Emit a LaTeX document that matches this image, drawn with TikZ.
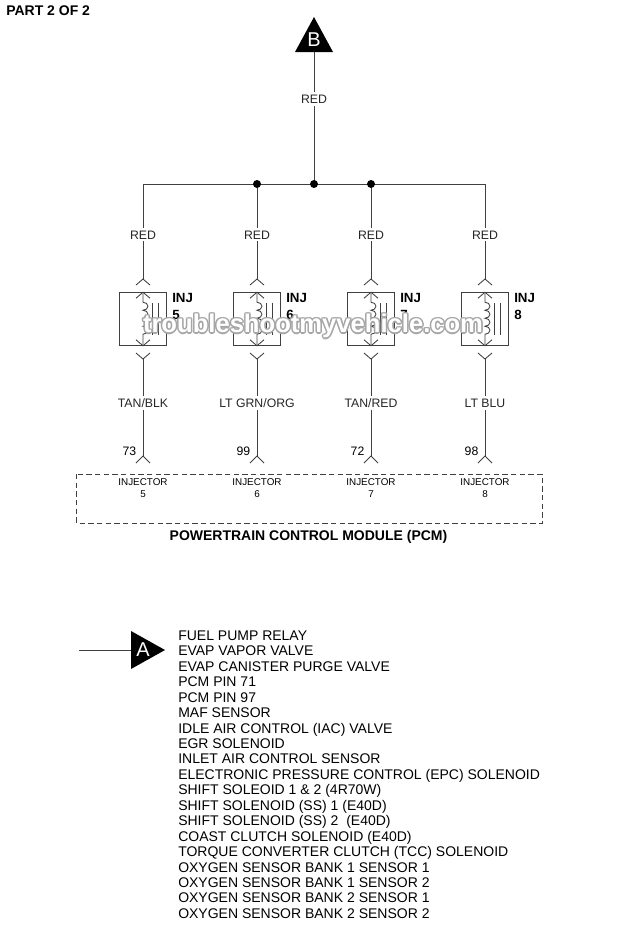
\documentclass[tikz,border=0pt]{standalone}
\usepackage{fontspec}
\setmainfont{Liberation Sans}
\tikzset{
  wire/.style={line width=0.7pt,color=black!75},
  pin/.style={line width=0.65pt,color=black!75},
  dot/.style={circle,fill=black,inner sep=0pt,minimum size=6pt},
  wirelabel/.style={fill=white,text=black!85,inner sep=1.5pt,text height=7pt,text depth=0pt,font=\fontsize{9.2}{11}\selectfont},
  smalllabel/.style={font=\fontsize{7.4}{8.4}\selectfont,align=center},
  injlabel/.style={font=\fontsize{10}{12.6}\selectfont\bfseries,align=left,anchor=north west,inner sep=0pt},
  injbox/.style={draw,line width=0.65pt,color=black!75,minimum width=35pt,minimum height=39.5pt,inner sep=0pt},
  flag/.style={fill=black,draw=none},
  flagletter/.style={text=white,font=\fontsize{15}{15}\selectfont,inner sep=0pt}
}
\begin{document}
\begin{tikzpicture}[x=0.75pt,y=-0.75pt]
  \useasboundingbox (0,0) rectangle (618,950);
  \pgfmathsetmacro{\hauteurbus}{184}
  \pgfmathsetmacro{\hauteurbox}{319}
  \pgfmathsetmacro{\hauteurpin}{456}
  \node[font=\fontsize{10.5}{12}\selectfont\bfseries,anchor=west,inner sep=0pt] (titre) at (6,11) {PART 2 OF 2};
  % feed from B
  \fill[flag] (314,17) -- (333,52) -- (295,52) -- cycle;
  \node[flagletter] (flagb) at (314,39.5) {B};
  \coordinate (feed) at (314,52);
  \coordinate (centre) at (314,\hauteurbus);
  \coordinate (busleft) at (143,\hauteurbus);
  \coordinate (busright) at (485,\hauteurbus);
  \draw[wire] (feed) -- (centre) node[wirelabel,pos=0.355] (feedlabel) {RED};
  \draw[wire] (busleft) -- (busright);
  % one injector per loop
  \foreach \x/\n/\couleur/\pinnum in {143/5/{TAN/BLK}/73,257/6/{LT GRN/ORG}/99,371/7/{TAN/RED}/72,485/8/{LT BLU}/98}{
    \coordinate (bus\n) at (\x,\hauteurbus);
    \coordinate (top\n) at (\x,279);
    \coordinate (low\n) at (\x,359);
    \coordinate (end\n) at (\x,\hauteurpin);
    \node[injbox] (box\n) at (\x,\hauteurbox) {};
    \draw[wire] (bus\n) -- (top\n) node[wirelabel,pos=0.535] (red\n) {RED};
    \draw[wire] (low\n) -- (end\n) node[wirelabel,pos=0.455] (col\n) {\couleur};
    \draw[pin] (top\n) ++(-7,6) -- ++(7,-6) -- ++(7,6);
    \draw[pin] (low\n) ++(-7,-6) -- ++(7,6) -- ++(7,-6);
    \draw[pin] (end\n) ++(-7,7) -- ++(7,-7) -- ++(7,7);
    \draw[pin] (box\n.north) ++(-7,6) -- ++(7,-6) -- ++(7,6);
    \draw[pin] (box\n.south) ++(-7,-6) -- ++(7,6) -- ++(7,-6);
    % coil
    \draw[pin] (box\n.north) -- ++(0,10)
      \foreach \k in {1,...,4} {arc[start angle=-90,end angle=90,x radius=5,y radius=4]} -- (box\n.south);
    \draw[pin] (\x+9,303) -- (\x+9,335);
    \draw[pin] (\x+15,303) -- (\x+15,335);
    \node[injlabel] (inj\n) at (\x+29,293) {INJ\\\n};
    \node[inner sep=0pt,font=\fontsize{9.2}{11}\selectfont] (num\n) at (\x-13.5,451) {\pinnum};
    \node[smalllabel] (mod\n) at (\x,488) {INJECTOR\\\n};
  }
  \node[dot] (dota) at (bus6) {};
  \node[dot] (dotb) at (centre) {};
  \node[dot] (dotc) at (bus7) {};
  % module
  \draw[line width=0.5pt,color=black!75,dash pattern=on 4pt off 2.5pt] (76.5,474) rectangle (542,523);
  \node[font=\fontsize{10.5}{12}\selectfont\bfseries,inner sep=0pt] (pcm) at (308.5,536.5) {POWERTRAIN CONTROL MODULE (PCM)};
  % feed from A
  \fill[flag] (131,631) -- (165,650) -- (131,669) -- cycle;
  \node[flagletter] (flaga) at (143,650) {A};
  \coordinate (stub) at (79,650);
  \coordinate (flagtail) at (131,650);
  \draw[wire] (stub) -- (flagtail);
  \node[anchor=north west,align=left,inner sep=0pt,font=\fontsize{10.5}{11.58}\selectfont] (liste) at (178,630.5) {FUEL PUMP RELAY\\
    EVAP VAPOR VALVE\\
    EVAP CANISTER PURGE VALVE\\
    PCM PIN 71\\
    PCM PIN 97\\
    MAF SENSOR\\
    IDLE AIR CONTROL (IAC) VALVE\\
    EGR SOLENOID\\
    INLET AIR CONTROL SENSOR\\
    ELECTRONIC PRESSURE CONTROL (EPC) SOLENOID\\
    SHIFT SOLEOID 1 \& 2 (4R70W)\\
    SHIFT SOLENOID (SS) 1 (E40D)\\
    SHIFT SOLENOID (SS) 2~~(E40D)\\
    COAST CLUTCH SOLENOID (E40D)\\
    TORQUE CONVERTER CLUTCH (TCC) SOLENOID\\
    OXYGEN SENSOR BANK 1 SENSOR 1\\
    OXYGEN SENSOR BANK 1 SENSOR 2\\
    OXYGEN SENSOR BANK 2 SENSOR 1\\
    OXYGEN SENSOR BANK 2 SENSOR 2};
  % watermark
  \foreach \dx/\dy in {-1.5/0,1.5/0,0/-1.5,0/1.5,-1.1/-1.1,1.1/-1.1,-1.1/1.1,1.1/1.1}
    \node[text=black!35,font=\fontsize{19.2}{22}\selectfont\bfseries,inner sep=0pt] (ombre) at (313+\dx,326+\dy) {troubleshootmyvehicle.com};
  \node[text=white,font=\fontsize{19.2}{22}\selectfont\bfseries,inner sep=0pt] (marque) at (313,326) {troubleshootmyvehicle.com};
\end{tikzpicture}
\end{document}
